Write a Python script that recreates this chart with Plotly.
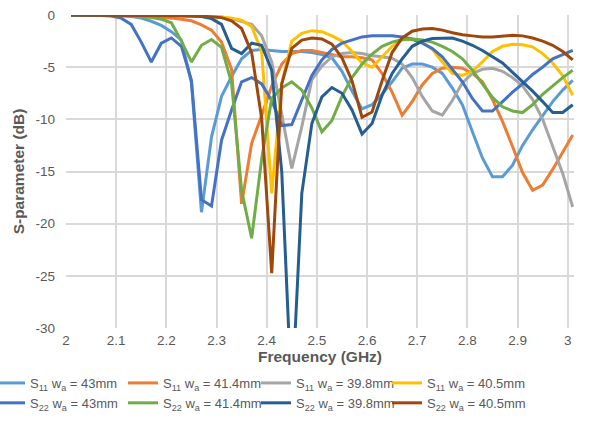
import plotly.graph_objects as go

# Frequency sweep (GHz), 2.01 ... 3.01 in 0.02 GHz steps
freq = [round(2.01 + 0.02 * k, 2) for k in range(51)]

# S11 curves (dB)
s11_43 = [0, 0, -0.02, -0.03, -0.05, -0.08, -0.15, -0.3, -0.6, -1.0,
          -1.6, -2.4, -6.5, -18.9, -11.7, -7.8, -5.9, -4.2, -3.4, -3.3,
          -3.4, -3.5, -3.5, -3.5, -3.6, -3.8, -4.1, -5.4, -7.3, -9.0,
          -8.6, -7.6, -6.4, -5.1, -4.7, -4.7, -5.0, -5.6, -7.0, -8.6,
          -11.2, -13.7, -15.5, -15.5, -14.4, -12.5, -11.0, -9.6, -8.3, -7.2,
          -6.25]
s11_414 = [0, 0, 0, -0.02, -0.03, -0.05, -0.07, -0.1, -0.15, -0.2,
           -0.3, -0.4, -0.55, -0.95, -1.45, -2.6, -5.2, -18.1, -12.3, -9.6,
           -6.8, -4.7, -3.7, -3.4, -3.4, -3.6, -3.8, -4.0, -4.0, -4.1,
           -4.3, -5.6, -7.4, -9.6, -8.3, -6.7, -5.6, -5.1, -5.0, -5.1,
           -5.6, -6.4, -8.1, -10.2, -12.6, -15.1, -16.8, -16.3, -14.8, -13.1,
           -11.5]
s11_398 = [0, 0, 0, 0, 0, 0, 0, -0.02, -0.03, -0.05,
           -0.06, -0.08, -0.1, -0.12, -0.15, -0.2, -0.35, -0.6, -0.9, -2.0,
           -4.5, -9.5, -14.7, -10.7, -6.2, -4.9, -4.0, -3.7, -3.6, -3.7,
           -3.9, -4.0, -4.15, -4.7, -6.0, -7.8, -9.2, -9.6, -8.2, -6.5,
           -5.6, -5.2, -5.1, -5.4, -6.0, -6.8, -8.1, -10.0, -12.7, -15.2,
           -18.4]
s11_405 = [0, 0, 0, 0, 0, 0, 0, 0, -0.02, -0.03,
           -0.05, -0.07, -0.1, -0.12, -0.15, -0.2, -0.3, -0.5, -1.1, -3.5,
           -17.1, -6.6, -2.5, -1.75, -1.5, -1.6, -2.0, -2.5, -3.5, -4.6,
           -5.0, -4.0, -3.0, -2.4, -2.35, -2.6, -3.3, -4.5, -5.6, -5.8,
           -5.4, -4.5, -3.5, -3.0, -2.8, -2.85, -3.05, -3.7, -4.6, -5.8,
           -7.7]

# S22 curves (dB)
s22_43 = [0, 0, -0.02, -0.05, -0.1, -0.3, -0.9, -2.6, -4.5, -2.7,
          -2.2, -3.0, -6.25, -17.7, -18.3, -12.0, -9.1, -6.4, -6.0, -6.6,
          -8.2, -10.6, -10.5, -8.2, -5.8, -4.3, -3.3, -2.7, -2.4, -2.1,
          -2.0, -2.0, -2.0, -2.1, -2.3, -2.7, -3.2, -4.0, -5.2, -6.4,
          -8.0, -9.2, -9.2, -8.3, -7.4, -6.6, -5.7, -5.0, -4.2, -3.8,
          -3.4]
s22_414 = [0, 0, 0, -0.02, -0.03, -0.05, -0.1, -0.15, -0.25, -0.4,
           -0.75, -2.5, -4.5, -2.9, -2.35, -3.1, -6.5, -16.8, -21.4, -13.8,
           -8.0, -7.0, -6.4, -7.2, -8.9, -11.2, -10.1, -7.8, -6.0, -4.7,
           -3.75, -3.0, -2.6, -2.35, -2.3, -2.4, -2.6, -3.0, -3.5, -4.2,
           -5.3, -6.6, -7.9, -8.8, -9.2, -9.35, -8.6, -7.6, -6.8, -6.0,
           -5.3]
s22_398 = [0, 0, 0, 0, 0, 0, 0, 0, 0, -0.02,
           -0.04, -0.07, -0.1, -0.15, -0.35, -0.9, -3.2, -3.7, -2.7, -2.9,
           -5.3, -15.0, -37.0, -17.1, -10.4, -7.85, -6.95, -7.5, -9.1, -11.4,
           -10.4, -7.7, -5.6, -4.2, -3.0, -2.5, -2.25, -2.2, -2.2, -2.5,
           -2.9, -3.4, -4.0, -4.6, -5.5, -6.4, -7.3, -8.3, -9.35, -9.35,
           -8.6]
s22_405 = [0, 0, 0, 0, 0, 0, 0, 0, 0, -0.02,
           -0.03, -0.05, -0.07, -0.1, -0.15, -0.25, -0.55, -1.3, -3.6, -9.9,
           -24.75, -6.6, -3.2, -2.4, -2.2, -2.3, -2.8, -4.1, -6.3, -9.8,
           -9.3, -6.3, -3.6, -2.2, -1.55, -1.35, -1.3, -1.45, -1.7, -1.9,
           -2.0, -2.1, -2.1, -2.0, -1.95, -2.0, -2.2, -2.5, -2.9, -3.5,
           -4.3]

names = [
    "S<sub>11</sub> w<sub>a</sub> = 43mm",
    "S<sub>11</sub> w<sub>a</sub> = 41.4mm",
    "S<sub>11</sub> w<sub>a</sub> = 39.8mm",
    "S<sub>11</sub> w<sub>a</sub> = 40.5mm",
    "S<sub>22</sub> w<sub>a</sub> = 43mm",
    "S<sub>22</sub> w<sub>a</sub> = 41.4mm",
    "S<sub>22</sub> w<sub>a</sub> = 39.8mm",
    "S<sub>22</sub> w<sub>a</sub> = 40.5mm",
]
series = [s11_43, s11_414, s11_398, s11_405, s22_43, s22_414, s22_398, s22_405]
colors = ["#5B9BD5", "#ED7D31", "#A5A5A5", "#FFC000",
          "#4472C4", "#70AD47", "#255E91", "#9E480E"]
# each legend column holds the S11 / S22 pair of one patch width
legend_ids = ["legend", "legend2", "legend3", "legend4"] * 2

x_ticks = [2, 2.1, 2.2, 2.3, 2.4, 2.5, 2.6, 2.7, 2.8, 2.9, 3]
x_labels = ["2", "2.1", "2.2", "2.3", "2.4", "2.5", "2.6", "2.7", "2.8", "2.9", "3"]
y_ticks = [0, -5, -10, -15, -20, -25, -30]
y_labels = ["0", "-5", "-10", "-15", "-20", "-25", "-30"]

FONT = "Liberation Sans, Arial, sans-serif"
TXT = "#595959"
GRID = "#D9D9D9"
W, H = 601, 422
ML, MR, MT, MB = 66, 27, 15, 94

fig = go.Figure()
for name, vals, col, lg in zip(names, series, colors, legend_ids):
    fig.add_trace(go.Scatter(x=freq, y=vals, mode="lines", name=name,
                             legend=lg, line=dict(color=col, width=3)))

plot_w = W - ML - MR


def legend_col(px):
    # vertical two-entry legend whose left edge sits at pixel px
    return dict(orientation="v", xref="paper", yref="container",
                x=(px - ML) / plot_w, xanchor="left",
                y=0.128, yanchor="top",
                font=dict(family=FONT, size=13, color=TXT),
                bgcolor="rgba(0,0,0,0)", borderwidth=0, tracegroupgap=0)


fig.update_layout(
    width=W, height=H,
    margin=dict(l=ML, r=MR, t=MT, b=MB, autoexpand=False),
    paper_bgcolor="white", plot_bgcolor="white",
    font=dict(family=FONT, size=13, color=TXT),
    showlegend=True,
    legend=legend_col(-10),
    legend2=legend_col(123),
    legend3=legend_col(256),
    legend4=legend_col(387),
    xaxis=dict(range=[2, 3.0125], tickvals=x_ticks, ticktext=x_labels,
               showgrid=True, gridcolor=GRID, gridwidth=1.5,
               zeroline=False, showline=False, ticks="",
               ticklabelstandoff=2,
               tickfont=dict(size=13.5, color=TXT),
               title=dict(text="<b>Frequency (GHz)</b>", standoff=4,
                          font=dict(size=15.5, color=TXT))),
    yaxis=dict(range=[-30, 0], tickvals=y_ticks, ticktext=y_labels,
               showgrid=True, gridcolor=GRID, gridwidth=1.5,
               zeroline=False, showline=False, ticks="",
               ticklabelstandoff=10,
               tickfont=dict(size=13.5, color=TXT),
               title=dict(text="<b>S-parameter (dB)</b>", standoff=7,
                          font=dict(size=15.5, color=TXT))),
)

fig.write_html("out.html")
